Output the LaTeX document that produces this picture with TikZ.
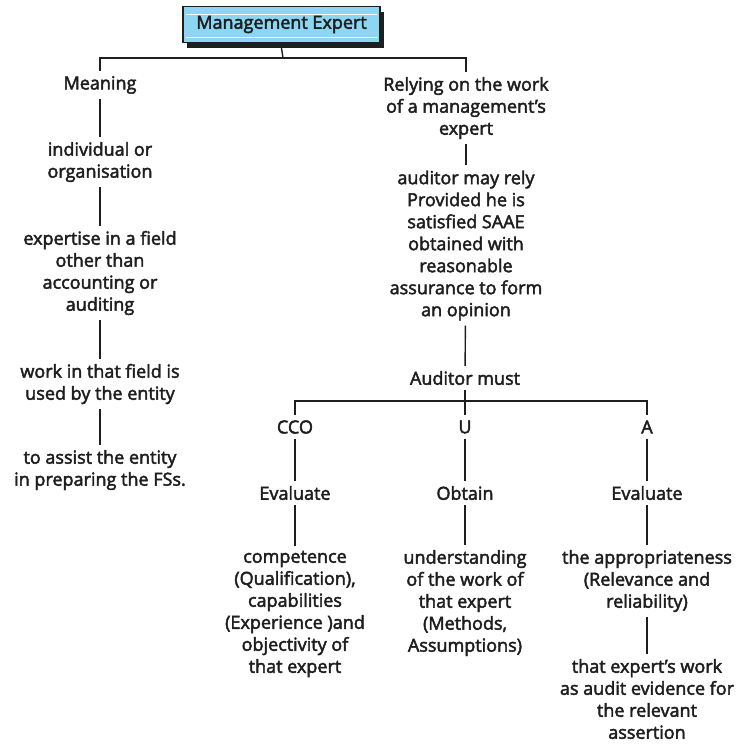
\documentclass[tikz,border=0pt]{standalone}
\usepackage{fontspec}
\setmainfont{Open Sans}[FakeBold=2.5]
\usetikzlibrary{shadows}
\definecolor{boxblue}{RGB}{140,214,243}
\definecolor{ink}{RGB}{30,30,30}
\begin{document}
\begin{tikzpicture}[x=1pt,y=-1pt,
  every node/.style={font=\fontsize{18}{22}\selectfont, text=ink},
  txt/.style={align=center, inner xsep=2pt, inner ysep=5pt},
  conn/.style={draw=ink, line width=1.4pt},
  titlebox/.style={draw=ink, line width=1.4pt, fill=boxblue, minimum width=197pt, minimum height=36pt, inner sep=0pt,
    drop shadow={shadow xshift=4pt, shadow yshift=-5pt, fill=ink, opacity=1}}]
\useasboundingbox (0,0) rectangle (740,744);
% title
\node[titlebox] (box) at (281.5,24.5) {};
\draw[white, line width=0.8pt] (186,14) -- (377,14) (186,37) -- (377,37);
\node[txt] (title) at (box.center) {Management Expert};
% left column
\node[txt] (meaning) at (100,85) {Meaning};
\node[txt] (indiv) at (100,162) {individual or\\organisation};
\node[txt] (expertise) at (100,273) {expertise in a field\\other than\\accounting or\\auditing};
\node[txt] (work) at (100,384) {work in that field is\\used by the entity};
\node[txt] (assist) at (100,470) {to assist the entity\\in preparing the FSs.};
% right column
\node[txt] (rely) at (466,108) {Relying on the work\\of a management's\\expert};
\node[txt] (auditor) at (466,245.5) {auditor may rely\\Provided he is\\satisfied SAAE\\obtained with\\reasonable\\assurance to form\\an opinion};
\node[txt] (must) at (465,378) {Auditor must};
\node[txt] (cco) at (295,427) {CCO};
\node[txt] (u) at (465,427) {U};
\node[txt] (a) at (647,427) {A};
\node[txt] (ev1) at (295,493) {Evaluate};
\node[txt] (ob) at (465,493) {Obtain};
\node[txt] (ev2) at (647,493) {Evaluate};
\node[txt] (comp) at (295,614) {competence\\(Qualification),\\capabilities\\(Experience )and\\objectivity of\\that expert};
\node[txt] (under) at (465,603) {understanding\\of the work of\\that expert\\(Methods,\\Assumptions)};
\node[txt] (appr) at (647,581) {the appropriateness\\(Relevance and\\reliability)};
\node[txt] (thatw) at (647,699) {that expert's work\\as audit evidence for\\the relevant\\assertion};
% junctions
\coordinate (j1) at (283,58);
\coordinate (j2) at (465,401);
% connectors
\draw[conn] (box.south) ++(0,5) -- (j1);
\draw[conn] (meaning.north) |- (j1) -| (rely.north);
\draw[conn] (meaning) -- (indiv);
\draw[conn] (indiv) -- (expertise);
\draw[conn] (expertise) -- (work);
\draw[conn] (work) -- (assist);
\draw[conn] (rely) -- (auditor);
\draw[conn] (auditor) -- (must);
\draw[conn] (must) -- (u);
\draw[conn] (cco.north) |- (j2) -| (a.north);
\draw[conn] (cco) -- (ev1);
\draw[conn] (u) -- (ob);
\draw[conn] (a) -- (ev2);
\draw[conn] (ev1) -- (comp);
\draw[conn] (ob) -- (under);
\draw[conn] (ev2) -- (appr);
\draw[conn] (appr) -- (thatw);
\end{tikzpicture}
\end{document}
